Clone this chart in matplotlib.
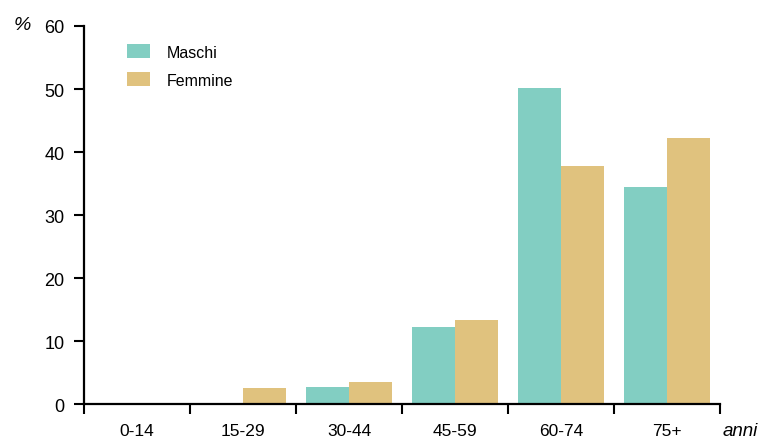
import numpy as np
import matplotlib.pyplot as plt

plt.rcParams['font.family'] = ['Liberation Sans', 'DejaVu Sans']

# age classes and percentages
classi = ['0-14', '15-29', '30-44', '45-59', '60-74', '75+']
maschi = [0.0, 0.2, 2.7, 12.2, 50.2, 34.4]
femmine = [0.0, 2.5, 3.5, 13.3, 37.8, 42.2]

col_m = '#82cec2'
col_f = '#e0c27e'

fig = plt.figure(figsize=(7.61, 4.39), dpi=100)
ax = fig.add_axes([0.1104, 0.0774, 0.8358, 0.8611])

x = np.arange(len(classi))
w = 0.405
ax.bar(x - w / 2, maschi, w, color=col_m, label='Maschi')
ax.bar(x + w / 2, femmine, w, color=col_f, label='Femmine')

ax.set_xlim(-0.5, len(classi) - 0.5)
ax.set_ylim(0, 60)
ax.set_yticks(np.arange(0, 61, 10))

# ticks on the class boundaries, labels in the middle
ax.set_xticks(np.arange(-0.5, len(classi)), minor=False)
ax.set_xticklabels([])
ax.set_xticks(x, minor=True)
ax.set_xticklabels(classi, minor=True)
ax.tick_params(axis='x', which='minor', length=0, pad=14, labelsize=12.5)
ax.tick_params(axis='x', which='major', length=7, width=1.5, direction='out')
ax.tick_params(axis='y', length=7, width=1.5, direction='out', pad=7, labelsize=13)

for s in ['top', 'right']:
    ax.spines[s].set_visible(False)
for s in ['left', 'bottom']:
    ax.spines[s].set_linewidth(1.6)

ax.text(-0.0975, 1.005, '%', transform=ax.transAxes, fontsize=14, style='italic',
        ha='center', va='center')
ax.text(1.059, -0.07, 'anni', transform=ax.transAxes, fontsize=13.5, style='italic',
        ha='right', va='center')

ax.legend(loc='upper left', bbox_to_anchor=(0.045, 0.99), frameon=False,
          fontsize=11.5, handlelength=1.45, handleheight=0.95, handletextpad=1.05,
          labelspacing=0.8)

fig.savefig('out.png', dpi=100)
